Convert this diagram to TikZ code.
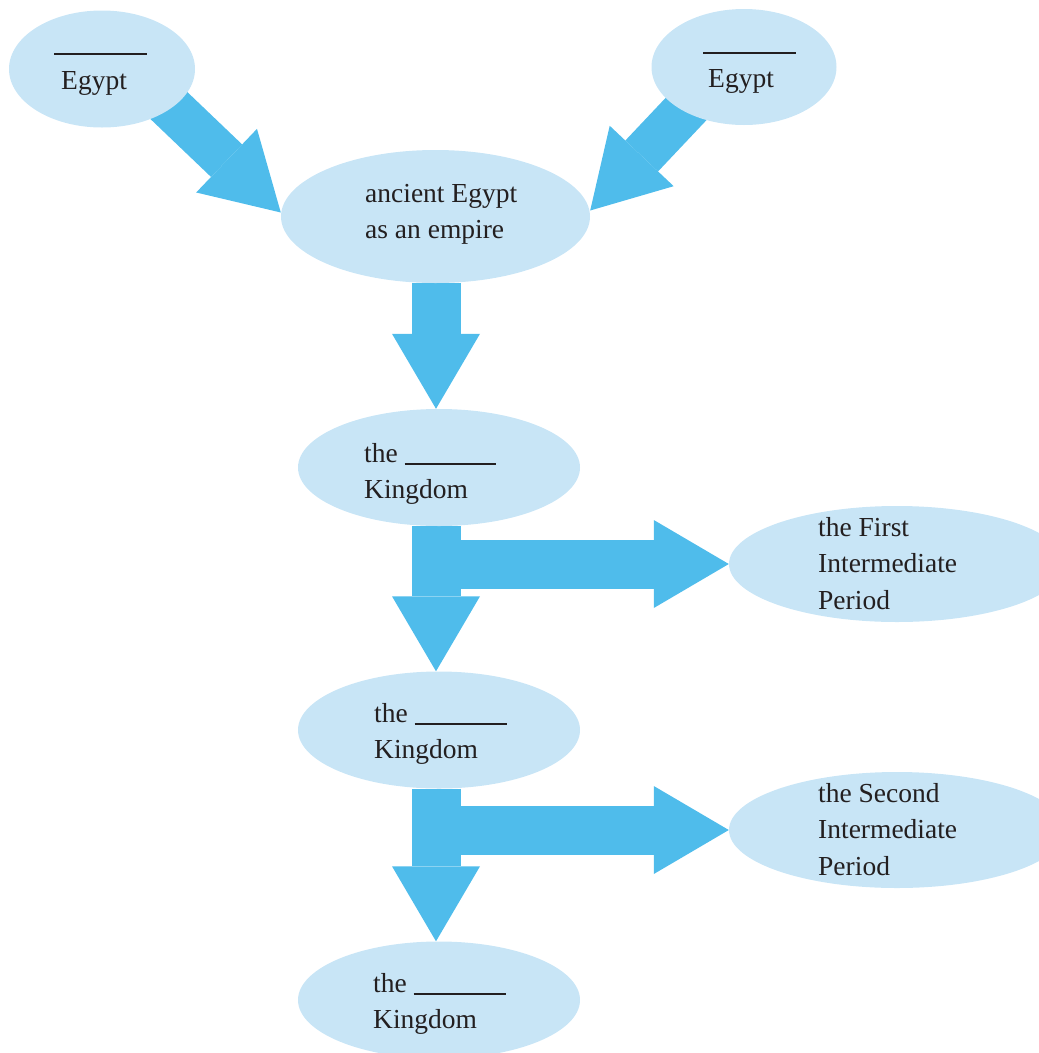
\documentclass[tikz,border=0pt]{standalone}
\usepackage{fontspec}
\setmainfont{Liberation Serif}
\usetikzlibrary{shapes.geometric,arrows.meta,calc,backgrounds}
\definecolor{bub}{HTML}{C8E5F6}
\definecolor{arr}{HTML}{4FBCEB}
\definecolor{ink}{HTML}{231F20}
\begin{document}
\begin{tikzpicture}[x=1pt,y=-1pt,
  bubble/.style={ellipse, fill=bub, draw=none, inner sep=0pt},
  lbl/.style={anchor=base west, inner sep=0pt, align=left, text=ink},
  fat/.style={draw=arr, line width=#1, -{Triangle[length=75pt,width=88pt,line width=0pt]}},
]
\useasboundingbox (0,0) rectangle (1039,1053);
\clip (0,0) rectangle (1039,1053);
% bubbles
\node[bubble, minimum width=186pt, minimum height=117pt] (e1) at (102,69) {};
\node[bubble, minimum width=185pt, minimum height=116pt] (e2) at (744,67) {};
\node[bubble, minimum width=309pt, minimum height=133pt] (e3) at (435.5,216.5) {};
\node[bubble, minimum width=282pt, minimum height=117pt] (e4) at (439,467.5) {};
\node[bubble, minimum width=336pt, minimum height=116pt] (e5) at (897,564) {};
\node[bubble, minimum width=282pt, minimum height=117pt] (e6) at (439,730) {};
\node[bubble, minimum width=336pt, minimum height=116pt] (e7) at (897,830) {};
\node[bubble, minimum width=282pt, minimum height=117pt] (e8) at (439,1000) {};
\coordinate (ax) at (436,0);
% arrows
\begin{scope}[on background layer]
\draw[fat=45pt] ($(e1.center)+(36,7)$) -- ($(e3.west)+(0,-4)$);
\draw[fat=45pt] ($(e2.center)+(-23,5)$) -- ($(e3.east)+(0,-6)$);
\draw[fat=49pt] (ax |- e3.south) -- (ax |- e4.north);
\draw[fat=49pt] (ax |- e4.south) -- (ax |- e6.north);
\draw[fat=49pt] (ax |- e6.south) -- (ax |- e8.north);
\draw[fat=49pt] (ax |- e5.west) -- (e5.west);
\draw[fat=49pt] (ax |- e7.west) -- (e7.west);
\end{scope}
% labels (anchored at the baseline of the last line)
\node[lbl, font=\fontsize{27.5}{34}\selectfont] (t1) at (61,89) {\hspace*{-7pt}\rule{93pt}{2pt}\\Egypt};
\node[lbl, font=\fontsize{27.5}{33}\selectfont] (t2) at (708,87) {\hspace*{-5pt}\rule{93pt}{2pt}\\Egypt};
\node[lbl, font=\fontsize{27.5}{36}\selectfont] (t3) at (365,238) {ancient Egypt\\as an empire};
\node[lbl, font=\fontsize{27.5}{36}\selectfont] (t4) at (364,498) {the \rule[-3pt]{91pt}{2pt}\\Kingdom};
\node[lbl, font=\fontsize{27.5}{36.5}\selectfont] (t5) at (818,609) {the First\\Intermediate\\Period};
\node[lbl, font=\fontsize{27.5}{36}\selectfont] (t6) at (374,758) {the \rule[-3pt]{92pt}{2pt}\\Kingdom};
\node[lbl, font=\fontsize{27.5}{36.5}\selectfont] (t7) at (818,875) {the Second\\Intermediate\\Period};
\node[lbl, font=\fontsize{27.5}{36}\selectfont] (t8) at (373,1028) {the \rule[-3pt]{92pt}{2pt}\\Kingdom};
\end{tikzpicture}
\end{document}
